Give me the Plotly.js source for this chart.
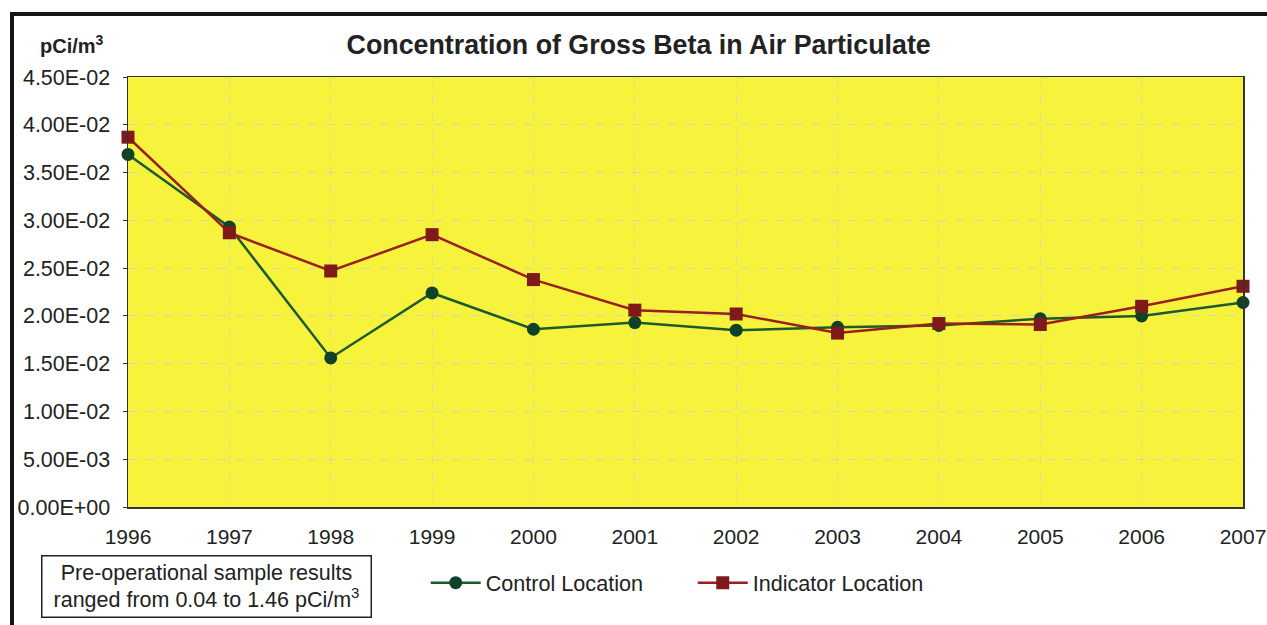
<!DOCTYPE html>
<html><head><meta charset="utf-8">
<script src="https://cdn.plot.ly/plotly-3.0.1.min.js"></script>
<style>
html,body{margin:0;padding:0;background:#fff;overflow:hidden;}
#wrap{position:relative;width:1267px;height:625px;}
#chart{position:absolute;left:0;top:0;width:1267px;height:625px;}
#frame{position:absolute;left:10px;top:12px;width:1300px;height:700px;border-left:4px solid #151515;border-top:4px solid #151515;pointer-events:none;}
</style></head>
<body><div id="wrap"><div id="chart"></div><div id="frame"></div></div>
<script>
const years = [1996,1997,1998,1999,2000,2001,2002,2003,2004,2005,2006,2007];
const control = [0.0369,0.0293,0.0156,0.0224,0.0186,0.0193,0.0185,0.0188,0.0190,0.0197,0.0200,0.0214];
const indicator = [0.0387,0.0287,0.0247,0.0285,0.0238,0.0206,0.0202,0.0182,0.0192,0.0191,0.0210,0.0231];
const yTicks = [0,0.005,0.01,0.015,0.02,0.025,0.03,0.035,0.04,0.045];
const yTickText = ["0.00E+00","5.00E-03","1.00E-02","1.50E-02","2.00E-02","2.50E-02","3.00E-02","3.50E-02","4.00E-02","4.50E-02"];

const fam = "Liberation Sans, Arial, sans-serif";
const font = {family:fam, size:21, color:"#222"};
const data = [
 {x:years, y:control, name:"Control Location", type:"scatter", mode:"lines+markers", legend:"legend",
  line:{color:"#1d5a2c", width:2.5}, marker:{symbol:"circle", size:13, color:"#0f4226"}, cliponaxis:false},
 {x:years, y:indicator, name:"Indicator Location", type:"scatter", mode:"lines+markers", legend:"legend2",
  line:{color:"#9a1f1f", width:2.5}, marker:{symbol:"square", size:13, color:"#7e1a1a"}, cliponaxis:false}
];
const legFont = {family:fam, size:21.6, color:"#222"};
const layout = {
 width:1267, height:625,
 margin:{l:128, r:24, t:77, b:118},
 paper_bgcolor:"rgba(0,0,0,0)", plot_bgcolor:"#f7f33c",
 font:font,
 showlegend:true,
 legend:{orientation:"h", x:0.267, y:-0.177, xanchor:"left", yanchor:"middle",
   font:legFont, itemwidth:50, bgcolor:"rgba(0,0,0,0)"},
 legend2:{orientation:"h", x:0.5065, y:-0.177, xanchor:"left", yanchor:"middle",
   font:legFont, itemwidth:50, bgcolor:"rgba(0,0,0,0)"},
 title:{text:"<b>Concentration of Gross Beta in Air Particulate</b>", x:0.458, xref:"paper", xanchor:"center", y:0.928, yanchor:"middle",
   font:{family:fam, size:26.8, color:"#222"}},
 xaxis:{range:[1996,2007], tickvals:years, ticktext:years.map(String), showgrid:true,
   gridcolor:"rgba(205,215,190,0.75)", gridwidth:1, griddash:"dash",
   showline:true, linecolor:"#333", linewidth:1.5, mirror:true, ticks:"", ticklabelstandoff:10,
   tickfont:{family:fam, size:21, color:"#222"}, zeroline:false},
 yaxis:{range:[0,0.045], tickvals:yTicks, ticktext:yTickText, showgrid:true,
   gridcolor:"rgba(200,212,190,0.8)", gridwidth:1.2, griddash:"dash",
   showline:true, linecolor:"#333", linewidth:1.5, mirror:true, ticks:"outside", ticklen:4, tickcolor:"#333",
   ticklabelstandoff:8, tickfont:{family:fam, size:21.5, color:"#222"}, zeroline:false},
 annotations:[
  {text:"<b>pCi/m<sup>3</sup></b>", xref:"paper", yref:"paper", x:-0.0505, y:1.075, xanchor:"center", yanchor:"middle",
   showarrow:false, font:{family:fam, size:20, color:"#222"}},
  {text:"Pre-operational sample results<br>ranged from 0.04 to 1.46 pCi/m<sup>3</sup>", xref:"paper", yref:"paper",
   x:0.0705, y:-0.186, xanchor:"center", yanchor:"middle", showarrow:false, align:"center",
   width:322, height:54, bordercolor:"#222", borderwidth:1.5, borderpad:3, bgcolor:"#fff",
   font:{family:fam, size:21.5, color:"#222"}}
 ]
};
Plotly.newPlot("chart", data, layout, {displayModeBar:false, staticPlot:true});
</script></body></html>
